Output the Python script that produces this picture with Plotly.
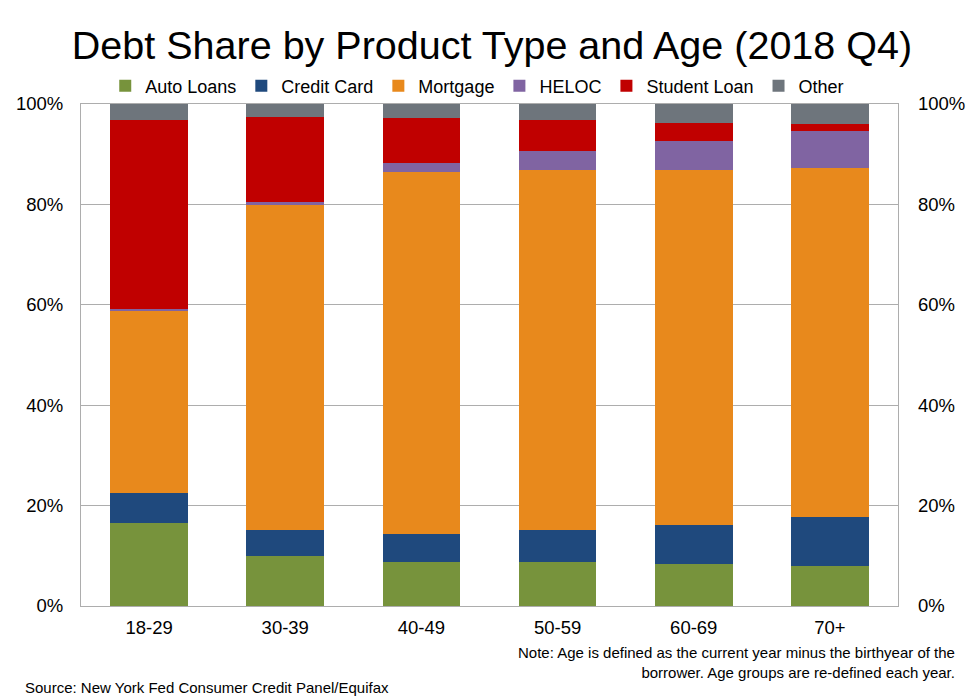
import plotly.graph_objects as go


# Share of debt (%) by age group, 2018 Q4
AGE_GROUPS = ["18-29", "30-39", "40-49", "50-59", "60-69", "70+"]
AUTO_LOANS = [16.6, 9.9, 8.8, 8.7, 8.4, 8.0]
CREDIT_CARD = [5.9, 5.3, 5.5, 6.5, 7.7, 9.7]
MORTGAGE = [36.4, 64.6, 72.2, 71.6, 70.8, 69.6]
HELOC = [0.2, 0.6, 1.8, 3.8, 5.7, 7.3]
STUDENT_LOAN = [37.8, 17.0, 8.9, 6.3, 3.7, 1.5]
OTHER = [3.1, 2.6, 2.8, 3.1, 3.7, 3.9]

SERIES = [
    ("Auto Loans", AUTO_LOANS, "#77933C"),
    ("Credit Card", CREDIT_CARD, "#1F497D"),
    ("Mortgage", MORTGAGE, "#E8891C"),
    ("HELOC", HELOC, "#8064A2"),
    ("Student Loan", STUDENT_LOAN, "#C00000"),
    ("Other", OTHER, "#6E757C"),
]

FONT = "Liberation Sans, Arial, sans-serif"
GRID = "#ADADAD"

# the page body adds an 8px offset, so the figure is a bit smaller than the window
W, H = 972, 691

fig = go.Figure()
for name, values, color in SERIES:
    fig.add_trace(go.Bar(
        x=AGE_GROUPS, y=values, name=name,
        marker=dict(color=color, line=dict(width=0)),
    ))

# invisible trace so the right-hand axis gets drawn
fig.add_trace(go.Scatter(x=AGE_GROUPS, y=[None] * len(AGE_GROUPS), yaxis="y2",
                         showlegend=False, hoverinfo="skip"))

fig.update_layout(
    width=W, height=H,
    margin=dict(l=73, r=82, t=96, b=93),
    barmode="stack",
    bargap=0.43,
    plot_bgcolor="white",
    paper_bgcolor="white",
    font=dict(family=FONT, color="#000000", size=18),
    title=dict(
        text="Debt Share by Product Type and Age (2018 Q4)",
        x=(492 - 8) / W, xref="container", xanchor="center",
        y=1 - 37 / H, yanchor="middle",
        font=dict(size=39.5, family=FONT, color="#000000"),
    ),
    legend=dict(
        orientation="h",
        x=0.485, xanchor="center",
        y=1.036, yanchor="middle",
        font=dict(size=18, family=FONT),
        bgcolor="rgba(0,0,0,0)",
        itemwidth=30,
        traceorder="normal",
    ),
    xaxis=dict(
        showgrid=False, automargin=False,
        showline=True, linecolor=GRID, linewidth=1, mirror=True,
        ticks="", ticklabelstandoff=5,
        tickfont=dict(size=18.5),
    ),
    yaxis=dict(
        range=[0, 100], dtick=20, ticksuffix="%", automargin=False,
        showgrid=True, gridcolor=GRID, gridwidth=1,
        showline=True, linecolor=GRID, linewidth=1, mirror=True,
        zeroline=False, ticks="", ticklabelstandoff=13,
        tickfont=dict(size=18.5),
    ),
    yaxis2=dict(
        range=[0, 100], dtick=20, ticksuffix="%", automargin=False,
        overlaying="y", side="right",
        showgrid=False, zeroline=False, showline=False,
        ticks="", ticklabelstandoff=19,
        tickfont=dict(size=18.5),
    ),
    annotations=[
        dict(
            text="Note: Age is defined as the current year minus the birthyear of the<br>"
                 "borrower. Age groups are re-defined each year.",
            xref="paper", yref="paper", x=1.072, y=-0.112,
            xanchor="right", yanchor="middle", align="right",
            showarrow=False, font=dict(size=15, family=FONT),
        ),
        dict(
            text="Source: New York Fed Consumer Credit Panel/Equifax",
            xref="paper", yref="paper", x=-0.071, y=-0.163,
            xanchor="left", yanchor="middle", align="left",
            showarrow=False, font=dict(size=15, family=FONT),
        ),
    ],
)

fig.write_html("out.html")
